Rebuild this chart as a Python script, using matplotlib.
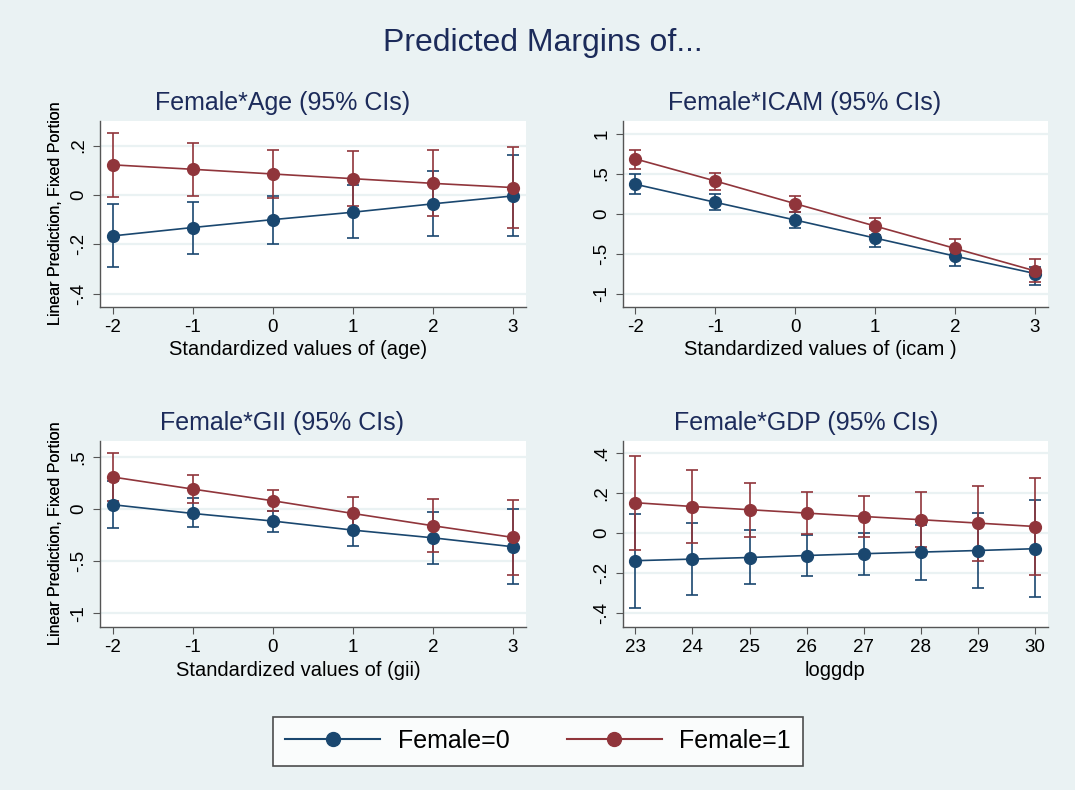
import numpy as np
import matplotlib
matplotlib.use("Agg")
import matplotlib.pyplot as plt
from matplotlib.ticker import FuncFormatter
from matplotlib.lines import Line2D

plt.rcParams['font.family'] = ['Liberation Sans', 'DejaVu Sans']
plt.rcParams['axes.unicode_minus'] = False

# standardized x values shared by the first three panels
x_std = [-2, -1, 0, 1, 2, 3]
x_gdp = [23, 24, 25, 26, 27, 28, 29, 30]

# Female*Age
age_m0 = [-0.166, -0.132, -0.100, -0.070, -0.036, -0.004]
age_lo0 = [-0.293, -0.238, -0.199, -0.176, -0.166, -0.165]
age_hi0 = [-0.038, -0.027, -0.003, 0.041, 0.099, 0.161]
age_m1 = [0.122, 0.104, 0.085, 0.066, 0.047, 0.030]
age_lo1 = [-0.007, -0.003, -0.014, -0.043, -0.085, -0.135]
age_hi1 = [0.250, 0.209, 0.184, 0.177, 0.181, 0.196]

# Female*ICAM
icam_m0 = [0.367, 0.142, -0.079, -0.304, -0.529, -0.746]
icam_lo0 = [0.24, 0.04, -0.18, -0.41, -0.65, -0.89]
icam_hi0 = [0.49, 0.25, 0.02, -0.196, -0.425, -0.66]
icam_m1 = [0.683, 0.408, 0.125, -0.154, -0.433, -0.713]
icam_lo1 = [0.56, 0.30, 0.02, -0.26, -0.546, -0.85]
icam_hi1 = [0.80, 0.51, 0.225, -0.05, -0.316, -0.57]

# Female*GII
gii_m0 = [0.042, -0.042, -0.115, -0.202, -0.276, -0.362]
gii_lo0 = [-0.186, -0.173, -0.218, -0.356, -0.529, -0.715]
gii_hi0 = [0.27, 0.106, -0.019, -0.048, -0.026, 0.0]
gii_m1 = [0.308, 0.192, 0.080, -0.042, -0.160, -0.272]
gii_lo1 = [0.074, 0.054, -0.019, -0.200, -0.413, -0.635]
gii_hi1 = [0.542, 0.330, 0.180, 0.119, 0.096, 0.087]

# Female*GDP
gdp_m0 = [-0.138, -0.130, -0.122, -0.112, -0.103, -0.095, -0.087, -0.078]
gdp_lo0 = [-0.373, -0.310, -0.255, -0.215, -0.208, -0.235, -0.273, -0.320]
gdp_hi0 = [0.098, 0.053, 0.015, -0.007, 0.002, 0.043, 0.100, 0.165]
gdp_m1 = [0.152, 0.133, 0.117, 0.100, 0.083, 0.067, 0.050, 0.033]
gdp_lo1 = [-0.085, -0.048, -0.017, -0.002, -0.020, -0.070, -0.137, -0.208]
gdp_hi1 = [0.387, 0.315, 0.252, 0.205, 0.188, 0.207, 0.237, 0.277]

BG = '#EAF2F3'
NAVY = '#1A476F'
MAROON = '#90353B'
TITLE_C = '#1C2B5A'
W, H = 1075, 790


def stata_fmt(v, pos):
    s = ('%g' % round(v, 6))
    if s.startswith('0.'):
        s = s[1:]
    elif s.startswith('-0.'):
        s = '-' + s[2:]
    return s


def panel(rect_px, x, m0, lo0, hi0, m1, lo1, hi1, xlim, ylim, yticks,
          title, title_xy, xlabel, xlab_x):
    l, t, r, b = rect_px
    ax = fig.add_axes([l / W, 1 - b / H, (r - l) / W, (b - t) / H])
    ax.set_facecolor('white')
    for lo, hi, c in [(lo0, hi0, NAVY), (lo1, hi1, MAROON)]:
        ax.errorbar(x, np.add(lo, hi) / 2, yerr=np.subtract(hi, lo) / 2,
                    fmt='none', ecolor=c, elinewidth=1.2, capsize=4.5,
                    capthick=1.2, zorder=3)
    ax.plot(x, m0, color=NAVY, lw=1.2, marker='o', ms=8.5, zorder=4)
    ax.plot(x, m1, color=MAROON, lw=1.2, marker='o', ms=8.5, zorder=5)
    ax.set_xlim(*xlim)
    ax.set_ylim(*ylim)
    ax.set_xticks(x)
    ax.set_yticks(yticks)
    ax.yaxis.set_major_formatter(FuncFormatter(stata_fmt))
    ax.grid(axis='y', color=BG, lw=1.6, zorder=0)
    for side in ['top', 'right']:
        ax.spines[side].set_visible(False)
    for side in ['left', 'bottom']:
        ax.spines[side].set_color('#555555')
        ax.spines[side].set_linewidth(1.0)
    ax.tick_params(direction='out', length=5, color='#555555',
                   labelsize=13.5, pad=4)
    ax.tick_params(axis='y', labelrotation=90)
    for lbl in ax.get_yticklabels():
        lbl.set_va('center')
    ax.set_ylabel('Linear Prediction, Fixed Portion', fontsize=11.5,
                  va='center')
    ax.yaxis.set_label_coords((56 - l) / (r - l), 0.5)
    ax.set_xlabel(xlabel, fontsize=14.5, va='center')
    ax.xaxis.set_label_coords(xlab_x, -(350 - 306.7) / 186)
    fig.text(title_xy[0] / W, 1 - title_xy[1] / H, title, fontsize=18,
             color=TITLE_C, ha='center', va='center')
    return ax


fig = plt.figure(figsize=(W / 100, H / 100), dpi=100, facecolor=BG)

fig.text(543 / W, 1 - 43 / H, 'Predicted Margins of...', fontsize=23,
         color=TITLE_C, ha='center', va='center')

panel((100, 120.7, 525.7, 306.7), x_std, age_m0, age_lo0, age_hi0,
      age_m1, age_lo1, age_hi1, (-2.16, 3.16), (-0.453, 0.301),
      [-0.4, -0.2, 0, 0.2], 'Female*Age (95% CIs)', (283, 103),
      'Standardized values of (age)', 0.465)
panel((622.7, 120.7, 1047.7, 306.7), x_std, icam_m0, icam_lo0, icam_hi0,
      icam_m1, icam_lo1, icam_hi1, (-2.16, 3.16), (-1.16, 1.16),
      [-1, -0.5, 0, 0.5, 1], 'Female*ICAM (95% CIs)', (805, 103),
      'Standardized values of (icam )', 0.465)
panel((100, 440.7, 525.7, 626.7), x_std, gii_m0, gii_lo0, gii_hi0,
      gii_m1, gii_lo1, gii_hi1, (-2.16, 3.16), (-1.13, 0.657),
      [-1, -0.5, 0, 0.5], 'Female*GII (95% CIs)', (282, 423),
      'Standardized values of (gii)', 0.465)
panel((622.7, 440.7, 1047.7, 626.7), x_gdp, gdp_m0, gdp_lo0, gdp_hi0,
      gdp_m1, gdp_lo1, gdp_hi1, (22.78, 30.22), (-0.468, 0.462),
      [-0.4, -0.2, 0, 0.2, 0.4], 'Female*GDP (95% CIs)', (806, 423),
      'loggdp', 0.5)

handles = [Line2D([], [], color=NAVY, lw=1.5, marker='o', ms=10),
           Line2D([], [], color=MAROON, lw=1.5, marker='o', ms=10)]
leg = fig.legend(handles, ['Female=0', 'Female=1'], ncol=2,
                 loc='center', bbox_to_anchor=(538 / W, 1 - 741 / H),
                 fontsize=18, frameon=True, fancybox=False,
                 handlelength=3.8, handletextpad=0.7, columnspacing=2.3,
                 borderpad=0.5)
leg.get_frame().set_edgecolor('#222222')
leg.get_frame().set_linewidth(1.2)
leg.get_frame().set_facecolor('white')

fig.savefig('out.png', dpi=100, facecolor=BG)
